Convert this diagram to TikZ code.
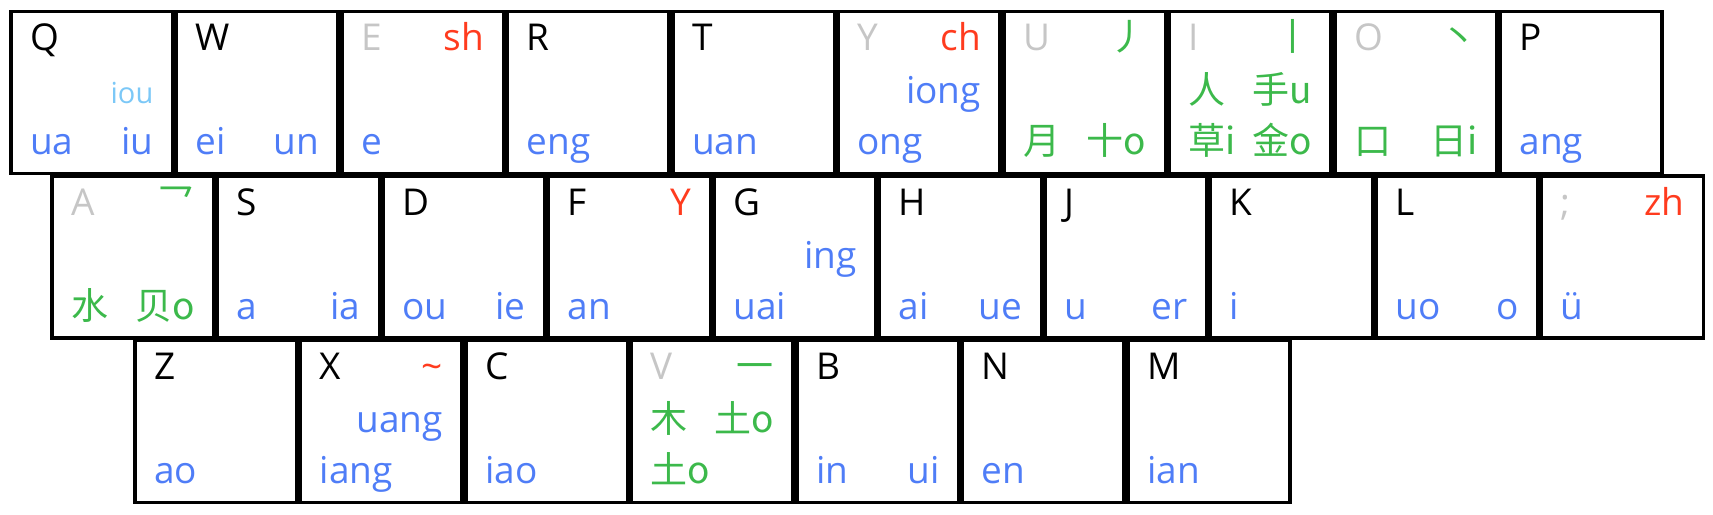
\documentclass[tikz,border=0pt]{standalone}
\usepackage{fontspec}
\setmainfont{Open Sans}
\newfontfamily\cjk{Noto Sans CJK SC}
\usetikzlibrary{calc}

\definecolor{finalblue}{HTML}{4F7DF7}
\definecolor{skyblue}{HTML}{7CC8F7}
\definecolor{initred}{HTML}{FF3B1E}
\definecolor{strokegreen}{HTML}{3CB94B}
\definecolor{keygray}{HTML}{C6C6C6}

\newcommand{\gry}[1]{\textcolor{keygray}{#1}}
\newcommand{\ini}[1]{\textcolor{initred}{#1}}
\newcommand{\hz}[1]{{\cjk\color{strokegreen}#1}}

% name, column, row, letter, top right, mid left, mid right, bottom left, bottom right
\newcommand{\keycap}[9]{%
  \node[keybox] (#1) at ({10.7+#2*165.5},{11.5+#3*164.5}) {};
  \node[lab, text=black, anchor=base west] (#1-l) at ($(#1.north west)+(19,39)$) {#4};
  \node[lab, anchor=base east] (#1-tr) at ($(#1.north east)+(-19,39)$) {#5};
  \node[lab, anchor=base west] (#1-ml) at ($(#1.north west)+(19,92)$) {#6};
  \node[lab, anchor=base east] (#1-mr) at ($(#1.north east)+(-19,92)$) {#7};
  \node[lab, anchor=base west] (#1-bl) at ($(#1.north west)+(19,143)$) {#8};
  \node[lab, anchor=base east] (#1-br) at ($(#1.north east)+(-19,143)$) {#9};
}

\begin{document}
\begin{tikzpicture}[x=0.5pt, y=-0.5pt,
  keybox/.style={draw, line width=1.9pt, minimum width=81pt, minimum height=81pt,
    inner sep=0pt, outer sep=0pt, anchor=north west},
  lab/.style={inner sep=0pt, text=finalblue, font=\fontsize{18.5pt}{22pt}\selectfont}]
  \useasboundingbox (0,0) rectangle (1713,514);

  % top row
  \keycap{Q}{0}{0}{Q}{}{}{\textcolor{skyblue}{\fontsize{14.5pt}{17pt}\selectfont iou}}{ua}{iu}
  \keycap{W}{1}{0}{W}{}{}{}{ei}{un}
  \keycap{E}{2}{0}{\gry{E}}{\ini{sh}}{}{}{e}{}
  \keycap{R}{3}{0}{R}{}{}{}{eng}{}
  \keycap{T}{4}{0}{T}{}{}{}{uan}{}
  \keycap{Y}{5}{0}{\gry{Y}}{\ini{ch}}{}{iong}{ong}{}
  \keycap{U}{6}{0}{\gry{U}}{\hz{丿}}{}{}{\hz{月}}{\hz{十o}}
  \keycap{I}{7}{0}{\gry{I}}{\hz{丨}}{\hz{人}}{\hz{手u}}{\hz{草i}}{\hz{金o}}
  \keycap{O}{8}{0}{\gry{O}}{\hz{丶}}{}{}{\hz{口}}{\hz{日i}}
  \keycap{P}{9}{0}{P}{}{}{}{ang}{}

  % home row
  \keycap{A}{0.25}{1}{\gry{A}}{\hz{乛}}{}{}{\hz{水}}{\hz{贝o}}
  \keycap{S}{1.25}{1}{S}{}{}{}{a}{ia}
  \keycap{D}{2.25}{1}{D}{}{}{}{ou}{ie}
  \keycap{F}{3.25}{1}{F}{\ini{Y}}{}{}{an}{}
  \keycap{G}{4.25}{1}{G}{}{}{ing}{uai}{}
  \keycap{H}{5.25}{1}{H}{}{}{}{ai}{ue}
  \keycap{J}{6.25}{1}{J}{}{}{}{u}{er}
  \keycap{K}{7.25}{1}{K}{}{}{}{i}{}
  \keycap{L}{8.25}{1}{L}{}{}{}{uo}{o}
  \keycap{semi}{9.25}{1}{\gry{;}}{\ini{zh}}{}{}{ü}{}

  % bottom row
  \keycap{Z}{0.75}{2}{Z}{}{}{}{ao}{}
  \keycap{X}{1.75}{2}{X}{\ini{\textasciitilde}}{}{uang}{iang}{}
  \keycap{C}{2.75}{2}{C}{}{}{}{iao}{}
  \keycap{V}{3.75}{2}{\gry{V}}{\hz{一}}{\hz{木}}{\hz{土o}}{\hz{土o}}{}
  \keycap{B}{4.75}{2}{B}{}{}{}{in}{ui}
  \keycap{N}{5.75}{2}{N}{}{}{}{en}{}
  \keycap{M}{6.75}{2}{M}{}{}{}{ian}{}
\end{tikzpicture}
\end{document}
